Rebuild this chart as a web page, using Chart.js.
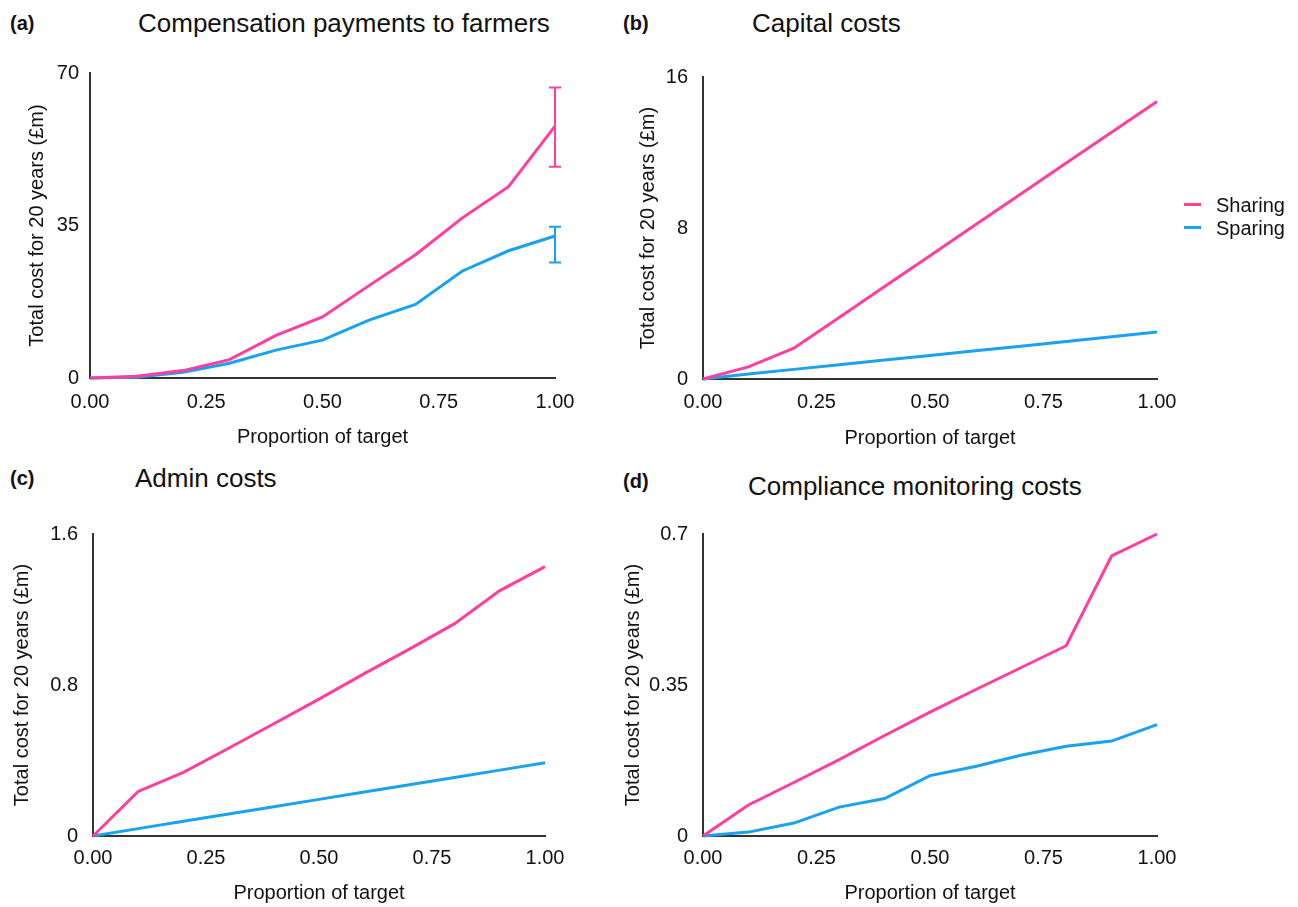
<!DOCTYPE html>
<html><head><meta charset="utf-8">
<script src="https://cdn.jsdelivr.net/npm/chart.js@4.4.1/dist/chart.umd.min.js"></script>
<style>
html,body{margin:0;padding:0;background:#fff;width:1298px;height:907px;overflow:hidden;font-family:"Liberation Sans",Arial,sans-serif;color:#111;}
canvas{position:absolute;}
.t{position:absolute;white-space:nowrap;height:40px;line-height:40px;}
.lbl{font-weight:bold;font-size:20px;}
.ttl{font-size:26px;}
.leg{position:absolute;left:1184px;font-size:20px;height:24px;line-height:24px;white-space:nowrap;}
.leg span.sw{position:absolute;left:0;top:10px;width:17px;height:3px;}
.leg span.tx{position:absolute;left:32px;top:0;}
</style>
</head><body>
<div class="t lbl" style="left:10px;top:3px">(a)</div>
<div class="t ttl" style="left:138px;top:3px">Compensation payments to farmers</div>
<div class="t lbl" style="left:623px;top:3px">(b)</div>
<div class="t ttl" style="left:752px;top:3px">Capital costs</div>
<div class="t lbl" style="left:10px;top:458px">(c)</div>
<div class="t ttl" style="left:135px;top:458px">Admin costs</div>
<div class="t lbl" style="left:623px;top:461px">(d)</div>
<div class="t ttl" style="left:748px;top:466px">Compliance monitoring costs</div>

<canvas id="ca" width="600" height="410" style="left:0px;top:50px"></canvas>
<canvas id="cb" width="600" height="410" style="left:600px;top:50px"></canvas>
<canvas id="cc" width="600" height="400" style="left:0px;top:507px"></canvas>
<canvas id="cd" width="600" height="400" style="left:600px;top:507px"></canvas>

<div class="leg" style="top:193px"><span class="sw" style="background:#FF3E9D"></span><span class="tx">Sharing</span></div>
<div class="leg" style="top:216px"><span class="sw" style="background:#18A2F0"></span><span class="tx">Sparing</span></div>

<script>
// ---- data ----
const seriesNames = ['Sharing', 'Sparing'];
const proportion = [0, 0.1, 0.2, 0.3, 0.4, 0.5, 0.6, 0.7, 0.8, 0.9, 1.0];
const xTickValues = [0, 0.25, 0.5, 0.75, 1.0];

const compSharing = [0, 0.4, 1.7, 4.2, 9.8, 14.0, 21.2, 28.3, 36.7, 43.9, 57.8];
const compSparing = [0, 0.15, 1.3, 3.4, 6.4, 8.7, 13.3, 16.9, 24.5, 29.2, 32.6];
const compSharingErr = [48.5, 66.7];
const compSparingErr = [26.5, 34.7];
const compYTicks = [0, 35, 70];

const capSharing = [0, 0.64, 1.63, 3.26, 4.9, 6.53, 8.17, 9.8, 11.44, 13.07, 14.7];
const capSparing = [0, 0.26, 0.51, 0.76, 1.01, 1.25, 1.5, 1.74, 1.99, 2.24, 2.49];
const capYTicks = [0, 8, 16];

const adminSharing = [0, 0.236, 0.337, 0.465, 0.595, 0.725, 0.86, 0.99, 1.125, 1.30, 1.427];
const adminSparing = [0, 0.039, 0.078, 0.117, 0.155, 0.194, 0.233, 0.272, 0.31, 0.349, 0.388];
const adminYTicks = [0, 0.8, 1.6];

const monSharing = [0, 0.072, 0.124, 0.177, 0.233, 0.287, 0.339, 0.39, 0.441, 0.649, 0.7];
const monSparing = [0, 0.009, 0.03, 0.067, 0.087, 0.14, 0.161, 0.187, 0.208, 0.22, 0.258];
const monYTicks = [0, 0.35, 0.7];

const xTitle = 'Proportion of target';
const yTitle = 'Total cost for 20 years (£m)';

// ---- styles ----
const PINK = '#FF3E9D', BLUE = '#18A2F0', AXIS = '#333', TXT = '#111';
Chart.defaults.font.family = '"Liberation Sans", Arial, sans-serif';

const errorBarPlugin = {
  id: 'errorBars',
  afterDatasetsDraw(chart, args, opts) {
    if (!opts || !opts.bars) return;
    const ctx = chart.ctx, xs = chart.scales.x, ys = chart.scales.y;
    opts.bars.forEach(b => {
      const px = xs.getPixelForValue(b.x);
      const y1 = ys.getPixelForValue(b.range[0]);
      const y2 = ys.getPixelForValue(b.range[1]);
      const cap = 6;
      ctx.save();
      ctx.strokeStyle = b.color; ctx.lineWidth = 2;
      ctx.beginPath();
      ctx.moveTo(px, y1); ctx.lineTo(px, y2);
      ctx.moveTo(px - cap, y1); ctx.lineTo(px + cap, y1);
      ctx.moveTo(px - cap, y2); ctx.lineTo(px + cap, y2);
      ctx.stroke();
      ctx.restore();
    });
  }
};

function makeChart(id, sharing, sparing, yTicks, g, bars) {
  const ds = (name, vals, color) => ({
    label: name,
    data: proportion.map((x, i) => ({x: x, y: vals[i]})),
    borderColor: color, backgroundColor: color,
    borderWidth: 3, pointRadius: 0, tension: 0, clip: false, fill: false
  });
  return new Chart(document.getElementById(id), {
    type: 'line',
    data: {datasets: [ds(seriesNames[0], sharing, PINK), ds(seriesNames[1], sparing, BLUE)]},
    options: {
      responsive: false, animation: false, devicePixelRatio: 1,
      layout: {padding: {top: g.top, right: g.right, left: 0, bottom: 0}},
      plugins: {legend: {display: false}, tooltip: {enabled: false}, errorBars: {bars: bars || null}},
      scales: {
        x: {
          type: 'linear', min: 0, max: 1,
          grid: {display: false, drawTicks: false}, border: {display: true, color: AXIS, width: 2},
          afterBuildTicks: s => { s.ticks = xTickValues.map(v => ({value: v})); },
          afterFit: s => { s.height = g.xh; },
          ticks: {padding: g.xtp, color: TXT, font: {size: 20}, maxRotation: 0, autoSkip: false,
                  callback: v => Number(v).toFixed(2)},
          title: {display: true, text: xTitle, color: TXT, font: {size: 20}, padding: {top: 0, bottom: g.xtb}}
        },
        y: {
          type: 'linear', min: yTicks[0], max: yTicks[yTicks.length - 1],
          grid: {display: false, drawTicks: false}, border: {display: true, color: AXIS, width: 2},
          afterBuildTicks: s => { s.ticks = yTicks.map(v => ({value: v})); },
          afterFit: s => { s.width = g.yw; },
          ticks: {padding: g.ytp, color: TXT, font: {size: 20}, callback: v => String(v)},
          title: {display: true, text: yTitle, color: TXT, font: {size: 20}, padding: {top: g.ytt, bottom: 0}}
        }
      }
    },
    plugins: [errorBarPlugin]
  });
}

makeChart('ca', compSharing, compSparing, compYTicks,
  {top: 20, right: 45, xh: 82, yw: 90, xtp: 12, xtb: 11, ytp: 11, ytt: 25},
  [{x: 1.0, range: compSharingErr, color: PINK}, {x: 1.0, range: compSparingErr, color: BLUE}]);
makeChart('cb', capSharing, capSparing, capYTicks,
  {top: 21, right: 43, xh: 81, yw: 103, xtp: 11, xtb: 10, ytp: 15, ytt: 36});
makeChart('cc', adminSharing, adminSparing, adminYTicks,
  {top: 20, right: 55, xh: 71, yw: 93, xtp: 10, xtb: 2, ytp: 15, ytt: 10});
makeChart('cd', monSharing, monSparing, monYTicks,
  {top: 21, right: 43, xh: 71, yw: 103, xtp: 10, xtb: 2, ytp: 15, ytt: 21});
</script>
</body></html>
